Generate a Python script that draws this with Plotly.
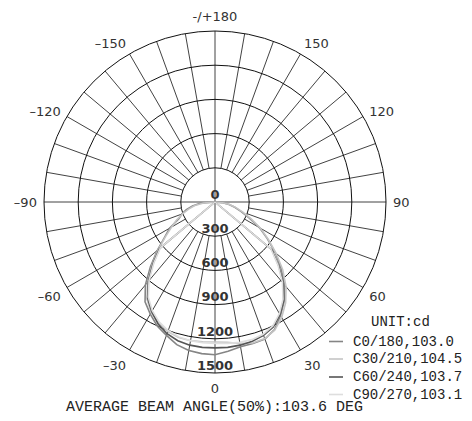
import plotly.graph_objects as go

# ---------------- data ----------------
gamma = list(range(-90, 95, 5))  # -90 .. 90 step 5

c0_180 = [0, 130, 200, 260, 310, 350, 460, 540, 660, 800, 950, 1070, 1135, 1200, 1245, 1295, 1322, 1335,
          1340,
          1315, 1290, 1285, 1280, 1235, 1150, 1060, 950, 820, 690, 560, 450, 330, 245, 180, 125, 60, 0]
c30_210 = [0, 100, 180, 240, 300, 370, 440, 530, 650, 780, 920, 1040, 1120, 1170, 1210, 1230, 1235, 1230,
           1228,
           1235, 1260, 1280, 1275, 1240, 1170, 1080, 970, 840, 700, 570, 460, 350, 260, 190, 130, 70, 0]
c60_240 = [0, 0, 0, 0, 0, 0, 0, 0, 635, 770, 910, 1030, 1110, 1180, 1230, 1260, 1275, 1280,
           1280,
           1280, 1275, 1265, 1245, 1210, 1140, 1050, 930, 790, 650, 0, 0, 0, 0, 0, 0, 0, 0]
c90_270 = [0, 0, 0, 0, 0, 0, 0, 0, 625, 760, 900, 1020, 1100, 1160, 1200, 1225, 1235, 1240,
           1240,
           1245, 1250, 1250, 1235, 1200, 1130, 1040, 920, 780, 640, 0, 0, 0, 0, 0, 0, 0, 0]

series_names = ["C0/180,103.0", "C30/210,104.5", "C60/240,103.7", "C90/270,103.1"]
series_values = [c0_180, c30_210, c60_240, c90_270]
series_colors = ["#858585", "#c4c4c4", "#555555", "#dedede"]

angle_ticks = [0, 30, 60, 90, 120, 150, 180, 210, 240, 270, 300, 330]
angle_labels = ["0", "30", "60", "90", "120", "150", "-/+180", "\u2013150", "\u2013120", "\u201390", "\u201360", "\u201330"]
radial_ticks = [0, 300, 600, 900, 1200, 1500]
radial_labels = ["0", "300", "600", "900", "1200", "1500"]

unit_text = "UNIT:cd"
beam_text = "AVERAGE BEAM ANGLE(50%):103.6 DEG"

# the page body has an 8px margin, so the figure is 8px smaller than the window
OFF = 8
W, H = 472 - OFF, 421 - OFF


def fx(px):
    return (px - OFF) / W


def fy(py):
    return 1 - (py - OFF) / H


# ---------------- figure ----------------
fig = go.Figure()

# spokes (grid) every 10 degrees; main axes pass through centre
sr, st = [], []
for a in range(0, 360, 10):
    r0 = 0 if a % 90 == 0 else radial_ticks[1]
    sr += [r0, radial_ticks[-1], None]
    st += [a, a, None]
fig.add_trace(go.Scatterpolar(r=sr, theta=st, mode="lines",
                              line=dict(color="#111111", width=0.8),
                              hoverinfo="skip", showlegend=False))

for name, vals, col in zip(series_names, series_values, series_colors):
    fig.add_trace(go.Scatterpolar(r=vals, theta=gamma, mode="lines", name=name,
                                  line=dict(color=col, width=1.6), showlegend=False))

# radial value labels along the 0 spoke
fig.add_trace(go.Scatterpolar(r=radial_ticks, theta=[0] * len(radial_ticks), mode="text",
                              text=radial_labels, textposition="top center",
                              marker=dict(size=1),
                              textfont=dict(family="DejaVu Sans", size=13, color="#333333", weight="bold"),
                              hoverinfo="skip", showlegend=False))

# manual legend (short line samples + monospace text)
legend_y_px = [341.5, 359, 377, 394.5]
shapes, annotations = [], []
for name, col, ypx in zip(series_names, series_colors, legend_y_px):
    shapes.append(dict(type="line", xref="paper", yref="paper",
                       x0=fx(329), x1=fx(343), y0=fy(ypx), y1=fy(ypx),
                       line=dict(color=col, width=1.6)))
    annotations.append(dict(text=name, x=fx(351), y=fy(ypx), xref="paper", yref="paper",
                            xanchor="left", yanchor="middle", showarrow=False,
                            font=dict(family="Liberation Mono", size=14, color="#222222")))
annotations.append(dict(text=unit_text, x=fx(369), y=fy(322), xref="paper", yref="paper",
                        xanchor="left", yanchor="middle", showarrow=False,
                        font=dict(family="Liberation Mono", size=14, color="#222222")))
annotations.append(dict(text=beam_text, x=fx(214), y=fy(407), xref="paper", yref="paper",
                        xanchor="center", yanchor="middle", showarrow=False,
                        font=dict(family="Liberation Mono", size=15, color="#222222")))

fig.update_layout(
    width=W, height=H,
    margin=dict(l=0, r=0, t=0, b=0),
    paper_bgcolor="white",
    font=dict(family="DejaVu Sans", size=13, color="#222222"),
    polar=dict(
        domain=dict(x=[fx(44), fx(386)], y=[fy(373), fy(31)]),
        bgcolor="white",
        angularaxis=dict(rotation=270, direction="counterclockwise",
                         tickmode="array", tickvals=angle_ticks, ticktext=angle_labels,
                         showgrid=False, ticks="outside", ticklen=4,
                         tickcolor="rgba(0,0,0,0)", showline=True,
                         linecolor="#111111", linewidth=1,
                         tickfont=dict(family="DejaVu Sans", size=13, color="#333333")),
        radialaxis=dict(range=[0, 1500], tickmode="array", tickvals=radial_ticks[1:],
                        showticklabels=False, ticks="", showline=False,
                        gridcolor="#111111", gridwidth=0.8),
    ),
    showlegend=False,
    shapes=shapes,
    annotations=annotations,
)

fig.write_html("out.html")
